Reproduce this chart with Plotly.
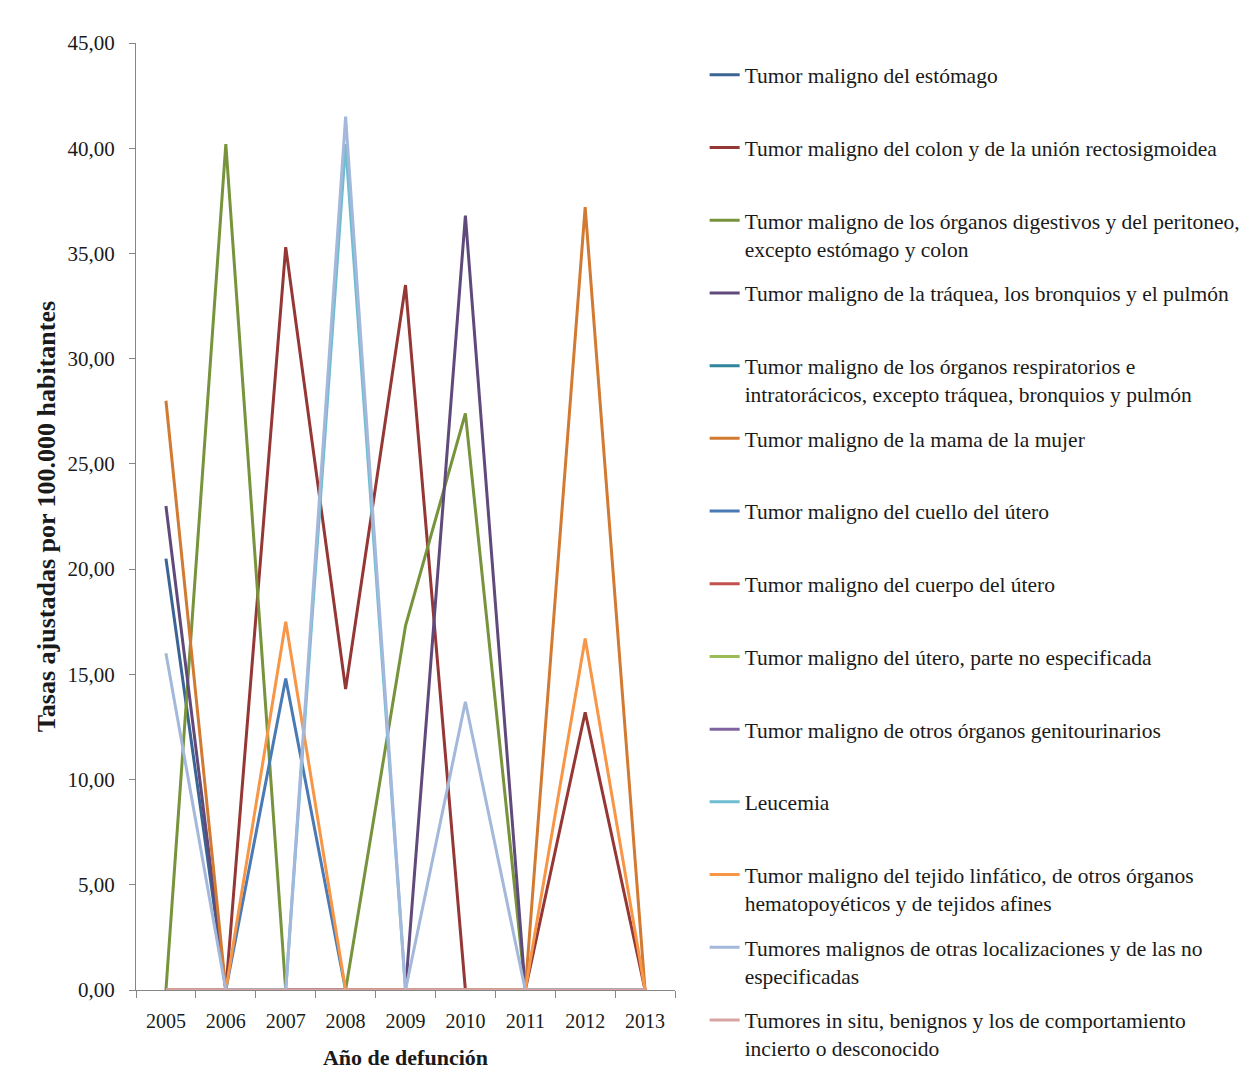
import plotly.graph_objects as go

years = ["2005", "2006", "2007", "2008", "2009", "2010", "2011", "2012", "2013"]

names = [
    "Tumor maligno del estómago",
    "Tumor maligno del colon y de la unión rectosigmoidea",
    "Tumor maligno de los órganos digestivos y del peritoneo,<br>excepto estómago y colon",
    "Tumor maligno de la tráquea, los bronquios y el pulmón",
    "Tumor maligno de los órganos respiratorios e<br>intratorácicos, excepto tráquea, bronquios y pulmón",
    "Tumor maligno de la mama de la mujer",
    "Tumor maligno del cuello del útero",
    "Tumor maligno del cuerpo del útero",
    "Tumor maligno del útero, parte no especificada",
    "Tumor maligno de otros órganos genitourinarios",
    "Leucemia",
    "Tumor maligno del tejido linfático, de otros órganos<br>hematopoyéticos y de tejidos afines",
    "Tumores malignos de otras localizaciones y de las no<br>especificadas",
    "Tumores in situ, benignos y los de comportamiento<br>incierto o desconocido",
]

estomago = [20.5, 0, 0, 0, 0, 0, 0, 0, 0]
colon = [0, 0, 35.3, 14.3, 33.5, 0, 0, 13.2, 0]
digestivos = [0, 40.2, 0, 0, 17.3, 27.4, 0, 0, 0]
traquea = [23.0, 0, 0, 0, 0, 36.8, 0, 0, 0]
respiratorios = [0, 0, 0, 0, 0, 0, 0, 0, 0]
mama = [28.0, 0, 0, 0, 0, 0, 0, 37.2, 0]
cuello = [0, 0, 14.8, 0, 0, 0, 0, 0, 0]
cuerpo = [0, 0, 0, 0, 0, 0, 0, 0, 0]
utero = [0, 0, 0, 0, 0, 0, 0, 0, 0]
genitourinarios = [0, 0, 0, 0, 0, 0, 0, 0, 0]
leucemia = [0, 0, 0, 40.2, 0, 0, 0, 0, 0]
linfatico = [0, 0, 17.5, 0, 0, 0, 0, 16.7, 0]
otras = [16.0, 0, 0, 41.5, 0, 13.7, 0, 0, 0]
in_situ = [0, 0, 0, 0, 0, 0, 0, 0, 0]

series = [estomago, colon, digestivos, traquea, respiratorios, mama, cuello,
          cuerpo, utero, genitourinarios, leucemia, linfatico, otras, in_situ]

colors = ["#3B6494", "#953735", "#77933C", "#604A7B", "#31859C", "#D27A32",
          "#4A7AB5", "#C0504D", "#9BBB59", "#8064A2", "#6FBDD1", "#F79646",
          "#A3B8DA", "#D9A3A3"]

FONT = "Liberation Serif, Times New Roman, serif"
TXT = "#1a1a1a"

fig = go.Figure()
for i, (nm, vals, col) in enumerate(zip(names, series, colors)):
    label = nm if "<br>" in nm else nm + "<br> "
    fig.add_trace(go.Scatter(
        x=years, y=vals, mode="lines", name=label,
        line=dict(color=col, width=3),
        legendgroup=f"g{i}",
    ))

fig.update_layout(
    width=1260, height=1084,
    margin=dict(l=136, r=585, t=43, b=94),
    paper_bgcolor="white", plot_bgcolor="white",
    separators=",.",
    font=dict(family=FONT, size=20, color=TXT),
    showlegend=True,
    legend=dict(
        x=1.055, xanchor="left", y=0.988, yanchor="top",
        font=dict(family=FONT, size=21.5, color=TXT),
        tracegroupgap=13.8, valign="top",
        maxheight=1080,
        bgcolor="rgba(0,0,0,0)",
    ),
    xaxis=dict(
        type="category", tickson="boundaries", ticks="outside", ticklen=7,
        range=[-0.5, 8.5],
        tickcolor="#868686", showline=True, linecolor="#868686", linewidth=1,
        showgrid=False, zeroline=False, ticklabelstandoff=13,
        tickfont=dict(family=FONT, size=20, color=TXT),
        title=dict(text="<b>Año de defunción</b>", standoff=18,
                   font=dict(family=FONT, size=22, color=TXT)),
    ),
    yaxis=dict(
        range=[0, 45], dtick=5, tickformat=".2f", ticks="outside", ticklen=6,
        tickcolor="#868686", showline=True, linecolor="#868686", linewidth=1,
        showgrid=False, zeroline=False, ticklabelstandoff=10,
        tickfont=dict(family=FONT, size=21, color=TXT),
        title=dict(text="<b>Tasas ajustadas por 100.000 habitantes</b>", standoff=4,
                   font=dict(family=FONT, size=26, color=TXT)),
    ),
)

fig.write_html("out.html")
